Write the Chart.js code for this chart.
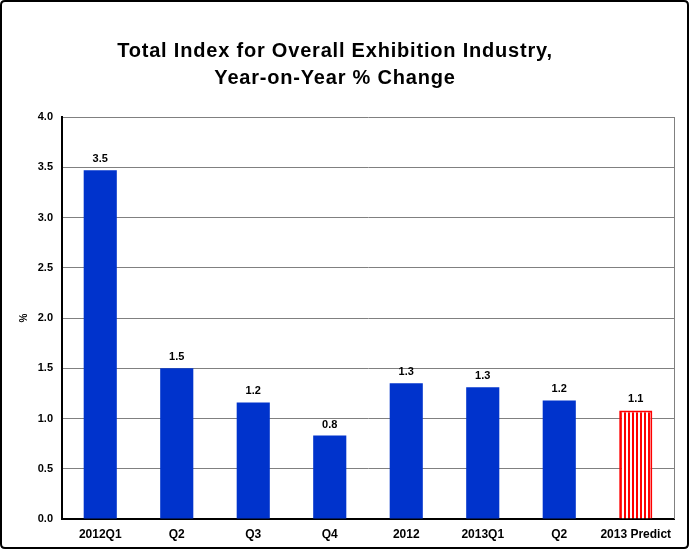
<!DOCTYPE html>
<html><head><meta charset="utf-8">
<script src="https://cdn.jsdelivr.net/npm/chart.js@4.4.1/dist/chart.umd.min.js"></script>
<style>html,body{margin:0;padding:0;background:#fff;}canvas{display:block;}</style>
</head><body>
<canvas id="c" width="690" height="550"></canvas>
<script>
const categories = ['2012Q1','Q2','Q3','Q4','2012','2013Q1','Q2','2013 Predict'];
const values = [3.47, 1.50, 1.16, 0.83, 1.35, 1.31, 1.18, 1.08];
const valueLabels = ['3.5','1.5','1.2','0.8','1.3','1.3','1.2','1.1'];
const yTicks = [0,0.5,1.0,1.5,2.0,2.5,3.0,3.5,4.0];
const titleLines = ['Total Index for Overall Exhibition Industry,','Year-on-Year % Change'];

const FONT = 'Arial, "Liberation Sans", sans-serif';
const pc = document.createElement('canvas');
pc.width = 4; pc.height = 4;
const pctx = pc.getContext('2d');
pctx.fillStyle = '#ffffff'; pctx.fillRect(0,0,4,4);
pctx.fillStyle = '#ff0000'; pctx.fillRect(0,0,2,4);
const ctx = document.getElementById('c').getContext('2d');
const stripe = ctx.createPattern(pc,'repeat');

const bg = values.map((v,i)=> i===values.length-1 ? stripe : '#0033cc');
const bc = values.map((v,i)=> i===values.length-1 ? '#ff0000' : '#0033cc');
const bw = values.map((v,i)=> i===values.length-1 ? 2 : 0);

const framePlugin = {
  id:'frame',
  beforeDraw(chart){
    const c = chart.ctx;
    c.save();
    c.fillStyle='#fff'; c.fillRect(0,0,chart.width,chart.height);
    c.restore();
  },
  afterDraw(chart){
    const c = chart.ctx, a = chart.chartArea;
    c.save();
    // title
    c.fillStyle='#000'; c.textAlign='center'; c.textBaseline='alphabetic';
    c.font='bold 20px '+FONT;
    try { c.letterSpacing='0.8px'; } catch(e){}
    c.fillText(titleLines[0], 335, 57);
    c.fillText(titleLines[1], 335, 84);
    try { c.letterSpacing='0px'; } catch(e){}
    // right plot border
    c.strokeStyle='#808080'; c.lineWidth=1;
    c.beginPath(); c.moveTo(Math.round(a.right)+0.5,a.top); c.lineTo(Math.round(a.right)+0.5,a.bottom); c.stroke();
    // outer frame
    c.strokeStyle='#000'; c.lineWidth=2;
    const x=1,y=1,w=chart.width-3,h=chart.height-3,r=4;
    c.beginPath();
    c.moveTo(x+r,y); c.lineTo(x+w-r,y); c.quadraticCurveTo(x+w,y,x+w,y+r);
    c.lineTo(x+w,y+h-r); c.quadraticCurveTo(x+w,y+h,x+w-r,y+h);
    c.lineTo(x+r,y+h); c.quadraticCurveTo(x,y+h,x,y+h-r);
    c.lineTo(x,y+r); c.quadraticCurveTo(x,y,x+r,y); c.closePath(); c.stroke();
    // value labels
    const meta = chart.getDatasetMeta(0);
    c.fillStyle='#000'; c.font='bold 11px '+FONT; c.textAlign='center'; c.textBaseline='middle';
    meta.data.forEach((el,i)=>{ c.fillText(valueLabels[i], el.x, el.y-11); });
    // y axis title
    c.translate(24,318); c.rotate(-Math.PI/2);
    c.font='bold 10px '+FONT; c.fillText('%',0,0);
    c.restore();
  }
};

new Chart(ctx,{
  type:'bar',
  data:{labels:categories,datasets:[{data:values,backgroundColor:bg,borderColor:bc,borderWidth:bw,
    categoryPercentage:1,barPercentage:0.433}]},
  options:{
    responsive:false,animation:false,devicePixelRatio:1,
    layout:{padding:{left:0,right:16,top:117,bottom:0}},
    plugins:{legend:{display:false},tooltip:{enabled:false},title:{display:false}},
    scales:{
      x:{grid:{display:false,drawTicks:false},border:{color:'#000',width:2},
        ticks:{color:'#000',font:{family:FONT,size:12,weight:'bold'},padding:8,maxRotation:0,autoSkip:false},
        afterFit(s){s.height=31;}},
      y:{min:0,max:4,grid:{color:'#808080',lineWidth:1,drawTicks:false},border:{color:'#000',width:2},
        afterBuildTicks(s){s.ticks=yTicks.map(v=>({value:v}));},
        ticks:{color:'#000',font:{family:FONT,size:11,weight:'bold'},padding:9,callback:v=>v.toFixed(1)},
        afterFit(s){s.width=62;}}
    }
  },
  plugins:[framePlugin]
});
</script>
</body></html>
